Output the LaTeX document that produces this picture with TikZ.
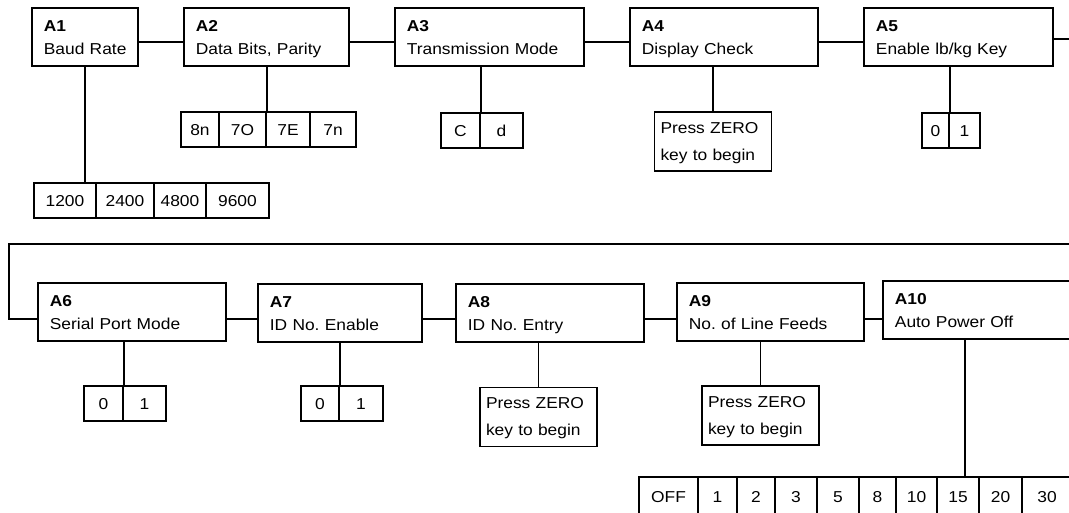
\documentclass[tikz,border=0pt]{standalone}
\usepackage{fontspec}
\setmainfont{Liberation Sans}[FakeStretch=1.1]
\usetikzlibrary{positioning}
\frenchspacing

\newcommand\stagetext[2]{\rule{0pt}{19pt}\textbf{#1}\\\strut #2}
% one row of option cells: name prefix, centre y, list of left/right/label
\newcommand\optrow[3]{%
  \foreach \xl/\xr/\val [count=\i] in {#3} {
    \node[cell, minimum width={(\xr-\xl)*1pt}] (#1o\i) at ({(\xl+\xr)/2}, #2) {\val};
  }}

\begin{document}
\begin{tikzpicture}[
    x=1pt, y=-1pt,
    line width=1.8pt,
    font=\fontsize{15.8}{23}\selectfont,
    stage/.style={draw, rectangle, anchor=north west, minimum height=58pt, inner xsep=12pt, inner ysep=0pt, align=left},
    cell/.style={draw, rectangle, minimum height=35pt, inner sep=0pt, text height=11.4pt, text depth=0pt},
    hint/.style={draw, rectangle, minimum height=59pt, text width=105pt, inner xsep=6pt, inner ysep=0pt, align=left, font=\fontsize{15.8}{27}\selectfont},
  ]
    \useasboundingbox (0,0) rectangle (1069,512);
    \clip (0,0) rectangle (1069,512);

    % Rows of the connector lines
    \coordinate (row1) at (0,42);
    \coordinate (row2) at (0,319);

    % First row
    \node[stage, text width=82pt] (a1) at (31,7) {\stagetext{A1}{Baud~Rate}};
    \node[stage, text width=141pt] (a2) at (183,7) {\stagetext{A2}{Data Bits, Parity}};
    \node[stage, text width=165pt] (a3) at (394,7) {\stagetext{A3}{Transmission Mode}};
    \node[stage, text width=164pt] (a4) at (629,7) {\stagetext{A4}{Display Check}};
    \node[stage, text width=165pt] (a5) at (863,7) {\stagetext{A5}{Enable lb/kg Key}};

    % Second row
    \node[stage, text width=164pt] (a6) at (37,282) {\stagetext{A6}{Serial Port Mode}};
    \node[stage, text width=140pt] (a7) at (257,283) {\stagetext{A7}{ID No. Enable}};
    \node[stage, text width=164pt] (a8) at (455,283) {\stagetext{A8}{ID No. Entry}};
    \node[stage, text width=163pt] (a9) at (676,282) {\stagetext{A9}{No. of Line Feeds}};
    \node[stage, text width=170pt] (a10) at (882,280) {\stagetext{A10}{Auto Power Off}};

    % Options
    \optrow{a1}{200.5}{34/96/1200, 96/154/2400, 154/206/4800, 206/269/9600}
    \optrow{a2}{129.5}{181/219/8n, 219/266/7O, 266/310/7E, 310/356/7n}
    \optrow{a3}{130.5}{441/480/C, 480/523/d}
    \optrow{a5}{130.5}{922/949/0, 949/980/1}
    \optrow{a6}{403.5}{84/123/0, 123/166/1}
    \optrow{a7}{403.5}{301/339/0, 339/383/1}
    \begin{scope}[cell/.append style={minimum height=40pt}]
      \optrow{a10}{497}{639/698/OFF, 698/737/1, 737/775/2, 775/817/3, 817/859/5, 859/896/8, 896/937/10, 937/979/15, 979/1022/20, 1022/1072/30}
    \end{scope}

    % Press ZERO hints
    \node[hint] (p4) at (713,141.5) {\strut Press ZERO\\\strut key to begin};
    \node[hint] (p8) at (538.5,417) {\strut Press ZERO\\\strut key to begin};
    \node[hint] (p9) at (760.5,415.5) {\strut Press ZERO\\\strut key to begin};

    % Chain of stages
    \draw (a1.east |- row1) -- (a2.west |- row1);
    \draw (a2.east |- row1) -- (a3.west |- row1);
    \draw (a3.east |- row1) -- (a4.west |- row1);
    \draw (a4.east |- row1) -- (a5.west |- row1);
    \coordinate (wrapTop) at (1072,39);
    \draw (a5.east |- wrapTop) -- (wrapTop);
    \coordinate (wrapR) at (1072,244);
    \coordinate (wrapL) at (9,244);
    \draw (wrapR) -- (wrapL) |- (a6.west |- row2);
    \draw (a6.east |- row2) -- (a7.west |- row2);
    \draw (a7.east |- row2) -- (a8.west |- row2);
    \draw (a8.east |- row2) -- (a9.west |- row2);
    \draw (a9.east |- row2) -- (a10.west |- row2);

    % Stems down to the options
    \draw (a1.south) -- (a1.south |- a1o1.north);
    \draw (a2o2.north east) -- (a2o2.north east |- a2.south);
    \draw (a3o1.north east) -- (a3o1.north east |- a3.south);
    \draw (p4.north) -- (p4.north |- a4.south);
    \draw (a5o1.north east) -- (a5o1.north east |- a5.south);
    \draw (a6o1.north east) -- (a6o1.north east |- a6.south);
    \draw (a7o1.north east) -- (a7o1.north east |- a7.south);
    \draw (p8.north) -- (p8.north |- a8.south);
    \draw (p9.north) -- (p9.north |- a9.south);
    \coordinate (s10) at ([xshift=7pt]a10o8.north);
    \draw (s10) -- (s10 |- a10.south);
  \end{tikzpicture}
\end{document}
